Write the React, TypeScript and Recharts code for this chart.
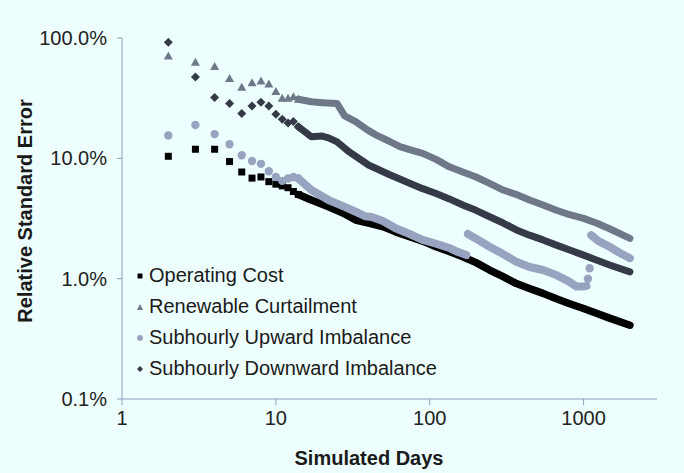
import React from 'react';
import { ScatterChart, Scatter, XAxis, YAxis } from 'recharts';

// early days, one marker per simulated day
const earlyDays = [2, 3, 4, 5, 6, 7, 8, 9, 10, 11, 12, 13, 14];
const costEarly = [10.4, 11.9, 11.9, 9.4, 7.7, 6.85, 7.0, 6.4, 6.1, 5.9, 5.7, 5.3, 5.0];
const renewEarly = [71, 63, 58, 46, 39, 42.5, 44, 41.5, 36, 31.5, 31.5, 32.5, 31];
const upEarly = [15.5, 18.9, 15.9, 13.1, 10.6, 9.5, 9.0, 7.8, 7.0, 6.5, 6.8, 7.0, 6.8];
const downEarly = [92, 47.4, 32, 28.6, 23.6, 27.2, 29.2, 27.2, 23.2, 21.1, 19.7, 20.2, 18.3];

// later days, where the markers merge into a band
const costTailDays = [14, 17, 22, 28, 33, 40, 50, 60, 74, 90, 110, 134, 164, 200, 245, 300, 366, 445, 545, 666, 812, 1000, 1211, 1475, 2000];
const costTail = [5.0, 4.5, 3.96, 3.45, 3.07, 2.9, 2.7, 2.45, 2.23, 2.05, 1.84, 1.68, 1.52, 1.36, 1.18, 1.04, 0.91, 0.83, 0.755, 0.68, 0.62, 0.565, 0.515, 0.47, 0.41];

const renewTailDays = [14, 17, 20, 25, 28, 33, 40, 45, 55, 64, 74, 90, 110, 134, 164, 200, 245, 300, 366, 445, 545, 666, 812, 1000, 1211, 1475, 2000];
const renewTail = [31, 29.5, 29, 28.5, 22.5, 20.2, 17, 15.6, 13.8, 12.5, 11.8, 11.0, 9.8, 8.5, 7.7, 7.0, 6.2, 5.45, 5.0, 4.5, 4.1, 3.7, 3.4, 3.17, 2.9, 2.6, 2.16];

const downTailDays = [14, 17, 20, 22, 25, 30, 40, 55, 74, 90, 110, 134, 164, 200, 245, 300, 366, 445, 545, 666, 812, 1000, 1211, 1475, 2000];
const downTail = [18.3, 15.1, 15.3, 14.8, 13.7, 11.3, 8.8, 7.3, 6.2, 5.6, 5.1, 4.6, 4.1, 3.7, 3.27, 2.9, 2.54, 2.3, 2.1, 1.9, 1.73, 1.57, 1.43, 1.3, 1.14];

const upSeg1Days = [14, 17, 22, 28, 33, 38, 42, 50, 60, 74, 90, 110, 134, 150, 173];
const upSeg1 = [6.8, 5.45, 4.5, 3.95, 3.6, 3.3, 3.25, 3.0, 2.62, 2.35, 2.1, 1.95, 1.8, 1.68, 1.57];
const upSeg2Days = [177, 200, 245, 300, 366, 445, 545, 666, 800, 900, 1000, 1043];
const upSeg2 = [2.35, 2.15, 1.84, 1.6, 1.38, 1.25, 1.18, 1.07, 0.95, 0.86, 0.86, 0.87];
const upDotDays = [1067, 1094];
const upDots = [1.0, 1.22];
const upSeg3Days = [1120, 1250, 1475, 1700, 2000];
const upSeg3 = [2.3, 2.05, 1.84, 1.65, 1.48];

const xTicks = [1, 10, 100, 1000];
const yTicks = [0.1, 1, 10, 100];

const COST = '#000000';
const RENEW = '#6e7889';
const UP = '#98a4bf';
const DOWN = '#343a46';
const AXIS = '#8e9cc0';
const FONT = '"Liberation Sans", Arial, sans-serif';

const pts = (days: number[], vals: number[]) => days.map((d, i) => ({ day: d, v: vals[i] }));

const Square = (p: any) => <rect x={p.cx - 3.5} y={p.cy - 3.5} width={7} height={7} fill={COST} />;
const Triangle = (p: any) => (
  <polygon points={`${p.cx},${p.cy - 4.5} ${p.cx + 4.5},${p.cy + 3.5} ${p.cx - 4.5},${p.cy + 3.5}`} fill={RENEW} />
);
const Dot = (p: any) => <circle cx={p.cx} cy={p.cy} r={4.2} fill={UP} />;
const Diamond = (p: any) => (
  <polygon points={`${p.cx},${p.cy - 4.5} ${p.cx + 4.5},${p.cy} ${p.cx},${p.cy + 4.5} ${p.cx - 4.5},${p.cy}`} fill={DOWN} />
);
const Nothing = () => <g />;

const band = (color: string, w: number) => ({
  stroke: color,
  strokeWidth: w,
  strokeLinecap: 'round',
  strokeLinejoin: 'round',
});

const legendItems = [
  { name: 'Operating Cost', mark: <rect x={1.5} y={1.5} width={5} height={5} fill={COST} /> },
  { name: 'Renewable Curtailment', mark: <polygon points="4,1 7,7 1,7" fill={RENEW} /> },
  { name: 'Subhourly Upward Imbalance', mark: <circle cx={4} cy={4} r={3} fill={UP} /> },
  { name: 'Subhourly Downward Imbalance', mark: <polygon points="4,1 7,4 4,7 1,4" fill={DOWN} /> },
];

const LegendBox = () => (
  <div style={{ position: 'absolute', left: 136, top: 260, fontFamily: FONT, fontSize: 20, color: '#1a1a1a' }}>
    {legendItems.map((it) => (
      <div key={it.name} style={{ height: 31, lineHeight: '31px', display: 'flex', alignItems: 'center' }}>
        <svg width={8} height={8} style={{ marginRight: 5 }}>
          {it.mark}
        </svg>
        <span>{it.name}</span>
      </div>
    ))}
  </div>
);

export default function App() {
  return (
    <div style={{ position: 'absolute', left: 0, top: 0, width: 684, height: 473, background: '#eeffff' }}>
      <ScatterChart width={684} height={473} margin={{ top: 38, right: 27, bottom: 0, left: 0 }}>
        <XAxis
          dataKey="day"
          type="number"
          scale="log"
          domain={[1, 3000]}
          ticks={xTicks}
          allowDataOverflow
          height={74}
          stroke={AXIS}
          tickSize={6}
          tickMargin={6}
          tick={{ fill: '#222', fontSize: 20, fontFamily: FONT }}
          label={{
            content: () => (
              <text x={369} y={465} textAnchor="middle" fontFamily={FONT} fontSize={20} fontWeight="bold" fill="#1a1a1a">
                Simulated Days
              </text>
            ),
          }}
        />
        <YAxis
          dataKey="v"
          type="number"
          scale="log"
          domain={[0.1, 100]}
          ticks={yTicks}
          allowDataOverflow
          width={122}
          stroke={AXIS}
          tickSize={5}
          tickMargin={10}
          tickFormatter={(v: number) => `${v.toFixed(1)}%`}
          tick={{ fill: '#222', fontSize: 20, fontFamily: FONT }}
          label={{
            content: () => (
              <text
                transform="translate(32,211) rotate(-90)"
                textAnchor="middle"
                fontFamily={FONT}
                fontSize={20}
                fontWeight="bold"
                fill="#1a1a1a"
              >
                Relative Standard Error
              </text>
            ),
          }}
        />

        <Scatter data={pts(renewTailDays, renewTail)} line={band(RENEW, 7)} shape={Nothing} legendType="none" isAnimationActive={false} />
        <Scatter data={pts(earlyDays, renewEarly)} shape={Triangle} isAnimationActive={false} />

        <Scatter data={pts(downTailDays, downTail)} line={band(DOWN, 7)} shape={Nothing} legendType="none" isAnimationActive={false} />
        <Scatter data={pts(earlyDays, downEarly)} shape={Diamond} isAnimationActive={false} />

        <Scatter data={pts(costTailDays, costTail)} line={band(COST, 7.5)} shape={Nothing} legendType="none" isAnimationActive={false} />
        <Scatter data={pts(earlyDays, costEarly)} shape={Square} isAnimationActive={false} />

        <Scatter data={pts(upSeg1Days, upSeg1)} line={band(UP, 8)} shape={Nothing} legendType="none" isAnimationActive={false} />
        <Scatter data={pts(upSeg2Days, upSeg2)} line={band(UP, 8)} shape={Nothing} legendType="none" isAnimationActive={false} />
        <Scatter data={pts(upSeg3Days, upSeg3)} line={band(UP, 8)} shape={Nothing} legendType="none" isAnimationActive={false} />
        <Scatter data={pts(upDotDays, upDots)} shape={Dot} isAnimationActive={false} />
        <Scatter data={pts(earlyDays, upEarly)} shape={Dot} isAnimationActive={false} />
      </ScatterChart>
      <LegendBox />
    </div>
  );
}
